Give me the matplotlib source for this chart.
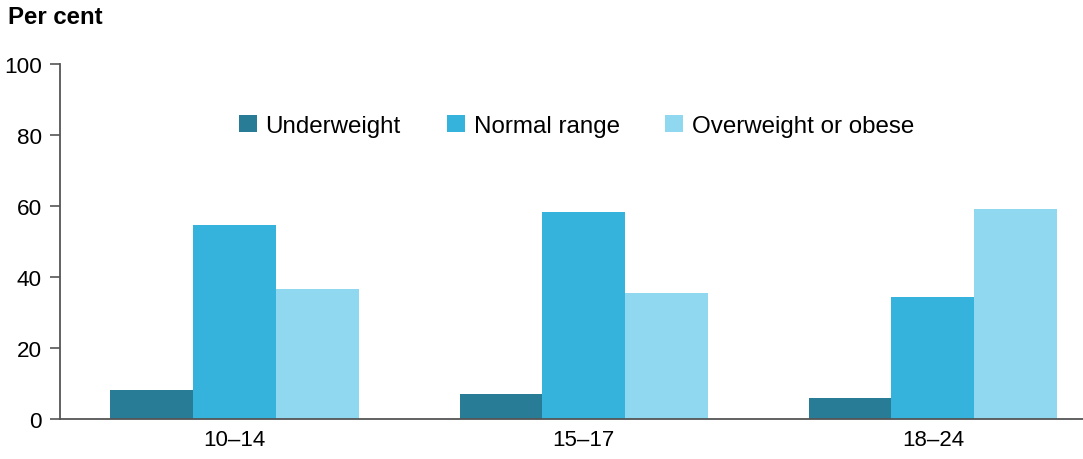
import numpy as np
import matplotlib.pyplot as plt

plt.rcParams['font.family'] = ['Liberation Sans', 'DejaVu Sans']

# Data
age_groups = ['10–14', '15–17', '18–24']
underweight = [8.2, 7.1, 6.0]
normal_range = [54.7, 58.4, 34.4]
overweight_obese = [36.7, 35.6, 59.2]

series = ['Underweight', 'Normal range', 'Overweight or obese']
colours = ['#297C96', '#35B3DD', '#8FD8F0']

fig = plt.figure(figsize=(10.83, 4.6), dpi=100)
ax = fig.add_axes([60 / 1083, 39.7 / 460, 1 - 60 / 1083, 355.3 / 460])

x = np.arange(len(age_groups))
width = 0.237
for i, (vals, lab, col) in enumerate(zip([underweight, normal_range, overweight_obese], series, colours)):
    ax.bar(x + (i - 1) * width, vals, width, color=col, label=lab, zorder=2)

ax.set_xlim(-0.5, 2.43)
ax.set_ylim(0, 100)
ax.set_yticks(range(0, 101, 20))
ax.set_xticks(x)
ax.set_xticklabels(age_groups)
ax.tick_params(axis='y', labelsize=16.2, length=7, width=1.2, color='#555555', pad=6)
ax.tick_params(axis='x', labelsize=16, length=0, pad=7)

for side in ['top', 'right']:
    ax.spines[side].set_visible(False)
for side in ['left', 'bottom']:
    ax.spines[side].set_color('#555555')
    ax.spines[side].set_linewidth(1.3)
    ax.spines[side].set_zorder(3)

ax.legend(loc='center', bbox_to_anchor=(0.505, 0.826), ncol=3, frameon=False,
          fontsize=17.4, handlelength=0.74, handleheight=0.74, handletextpad=0.37,
          columnspacing=1.9)

fig.text(8 / 1083, 1 - 17 / 460, 'Per cent', fontsize=17.3, fontweight='bold', va='center', ha='left')

fig.savefig('out.png', dpi=100)
